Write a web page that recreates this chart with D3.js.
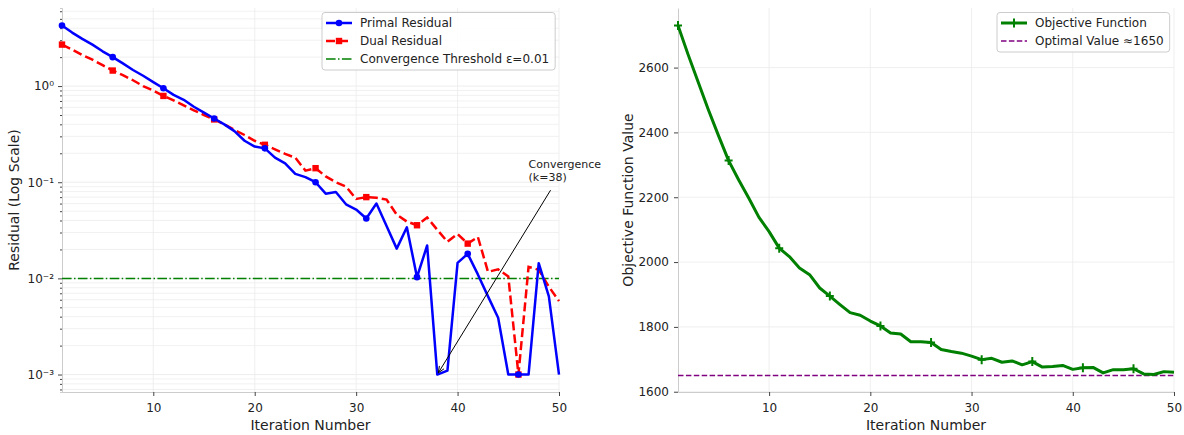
<!DOCTYPE html>
<html>
<head>
<meta charset="utf-8">
<script src="https://cdn.jsdelivr.net/npm/d3@7/dist/d3.min.js"></script>
<style>
body { margin: 0; background: #fff; }
text { font-family: "DejaVu Sans", sans-serif; fill: #222; }
</style>
</head>
<body>
<script>
// data
var iterations = d3.range(1, 51);
var primalResidual = [4.27, 3.6, 3.1, 2.7, 2.3, 2.0, 1.72, 1.47, 1.28, 1.1,
    0.95, 0.81, 0.72, 0.61, 0.53, 0.46, 0.40, 0.34, 0.27, 0.235,
    0.225, 0.18, 0.157, 0.122, 0.113, 0.10, 0.076, 0.079, 0.059, 0.052,
    0.042, 0.06, 0.035, 0.0204, 0.034, 0.0103, 0.022, 0.001, 0.0011, 0.0145,
    0.018, 0.011, 0.0065, 0.0039, 0.001, 0.001, 0.001, 0.0144, 0.0065, 0.001];
var dualResidual = [2.7, 2.4, 2.1, 1.88, 1.65, 1.45, 1.3, 1.15, 1.0, 0.9,
    0.79, 0.71, 0.63, 0.56, 0.5, 0.45, 0.40, 0.35, 0.31, 0.27,
    0.245, 0.22, 0.197, 0.18, 0.132, 0.14, 0.115, 0.10, 0.09, 0.067,
    0.07, 0.069, 0.066, 0.046, 0.039, 0.0357, 0.043, 0.032, 0.024, 0.029,
    0.023, 0.027, 0.0117, 0.0124, 0.0105, 0.001, 0.0132, 0.0123, 0.0082, 0.0058];
var objectiveValues = [2730, 2640, 2555, 2470, 2390, 2313, 2253, 2197, 2138, 2094,
    2043, 2017, 1982, 1961, 1920, 1895, 1869, 1844, 1836, 1818,
    1803, 1781, 1778, 1754, 1754, 1752, 1730, 1724, 1719, 1710,
    1699, 1703, 1691, 1695, 1683, 1693, 1676, 1678, 1681, 1669,
    1674, 1675, 1658, 1668, 1668, 1671, 1655, 1653, 1662, 1660];
var threshold = 0.01;
var optimalValue = 1650;
var markEvery = 5;

var xTickValues = [10, 20, 30, 40, 50];
var logTickValues = [1e-3, 1e-2, 1e-1, 1];
var logTickLabels = ["10\u207B\u00B3", "10\u207B\u00B2", "10\u207B\u00B9", "10\u2070"];
var objTickValues = [1600, 1800, 2000, 2200, 2400, 2600];

var leftLegend = ["Primal Residual", "Dual Residual", "Convergence Threshold \u03B5=0.01"];
var rightLegend = ["Objective Function", "Optimal Value \u22481650"];
var annotLines = ["Convergence", "(k=38)"];
var annotPoint = [38, 0.001];
var annotTextAt = [47, 0.14];

var svgWidth = 1184, svgHeight = 435;
var plotTop = 8, plotBottom = 392;
var leftPanel = {x0: 62, x1: 559};
var rightPanel = {x0: 678, x1: 1174};

var svg = d3.select("body").append("svg")
    .attr("width", svgWidth)
    .attr("height", svgHeight);

// scales
var xL = d3.scaleLinear().domain([1, 50]).range([leftPanel.x0, leftPanel.x1]);
var xR = d3.scaleLinear().domain([1, 50]).range([rightPanel.x0, rightPanel.x1]);

var allRes = primalResidual.concat(dualResidual);
var lo = Math.log10(d3.min(allRes)), hi = Math.log10(d3.max(allRes));
var lpad = 0.05 * (hi - lo);
var yL = d3.scaleLog()
    .domain([Math.pow(10, lo - lpad), Math.pow(10, hi + lpad)])
    .range([plotBottom, plotTop]);

var oMin = d3.min(objectiveValues), oMax = d3.max(objectiveValues);
var opad = 0.05 * (oMax - oMin);
var yR = d3.scaleLinear().domain([oMin - opad, oMax + opad]).range([plotBottom, plotTop]);

// minor log ticks
var minorTicks = [];
for (var e = -4; e <= 1; e++) {
    for (var m = 2; m <= 9; m++) {
        var v = m * Math.pow(10, e);
        if (v >= yL.domain()[0] && v <= yL.domain()[1]) minorTicks.push(v);
    }
}

// grids
var gridL = svg.append("g");
gridL.selectAll(".gm").data(minorTicks).enter().append("line")
    .attr("x1", leftPanel.x0).attr("x2", leftPanel.x1)
    .attr("y1", function(d){ return yL(d); }).attr("y2", function(d){ return yL(d); })
    .attr("stroke", "#eeeeee").attr("stroke-width", 0.8);
gridL.selectAll(".gM").data(logTickValues).enter().append("line")
    .attr("x1", leftPanel.x0).attr("x2", leftPanel.x1)
    .attr("y1", function(d){ return yL(d); }).attr("y2", function(d){ return yL(d); })
    .attr("stroke", "#e8e8e8").attr("stroke-width", 0.8);
gridL.selectAll(".gx").data(xTickValues).enter().append("line")
    .attr("x1", function(d){ return xL(d); }).attr("x2", function(d){ return xL(d); })
    .attr("y1", plotTop).attr("y2", plotBottom)
    .attr("stroke", "#ebebeb").attr("stroke-width", 0.8);

var gridR = svg.append("g");
gridR.selectAll(".gy").data(objTickValues).enter().append("line")
    .attr("x1", rightPanel.x0).attr("x2", rightPanel.x1)
    .attr("y1", function(d){ return yR(d); }).attr("y2", function(d){ return yR(d); })
    .attr("stroke", "#ebebeb").attr("stroke-width", 0.8);
gridR.selectAll(".gx").data(xTickValues).enter().append("line")
    .attr("x1", function(d){ return xR(d); }).attr("x2", function(d){ return xR(d); })
    .attr("y1", plotTop).attr("y2", plotBottom)
    .attr("stroke", "#ebebeb").attr("stroke-width", 0.8);

// axes
function styleAxis(g) {
    g.select(".domain").attr("stroke", "#cccccc").attr("stroke-width", 1);
    g.selectAll(".tick line").attr("stroke", "#444");
    g.selectAll(".tick text").attr("font-size", "12px").attr("fill", "#222")
        .attr("font-family", "DejaVu Sans");
}

svg.append("g")
    .attr("transform", "translate(" + leftPanel.x0 + ",0)")
    .call(d3.axisLeft(yL).tickValues(minorTicks).tickSize(2).tickFormat(""))
    .call(styleAxis);
svg.append("g")
    .attr("transform", "translate(" + leftPanel.x0 + ",0)")
    .call(d3.axisLeft(yL).tickValues(logTickValues).tickSize(4).tickPadding(4).tickSizeOuter(0)
        .tickFormat(function(d, i){ return logTickLabels[i]; }))
    .call(styleAxis);
svg.append("g")
    .attr("transform", "translate(0," + plotBottom + ")")
    .call(d3.axisBottom(xL).tickValues(xTickValues).tickSize(4).tickPadding(7).tickSizeOuter(0))
    .call(styleAxis);

svg.append("g")
    .attr("transform", "translate(" + rightPanel.x0 + ",0)")
    .call(d3.axisLeft(yR).tickValues(objTickValues).tickSize(4).tickPadding(5).tickSizeOuter(0)
        .tickFormat(d3.format("d")))
    .call(styleAxis);
svg.append("g")
    .attr("transform", "translate(0," + plotBottom + ")")
    .call(d3.axisBottom(xR).tickValues(xTickValues).tickSize(4).tickPadding(7).tickSizeOuter(0))
    .call(styleAxis);

// axis labels
svg.append("text").attr("x", (leftPanel.x0 + leftPanel.x1) / 2).attr("y", 429.5)
    .attr("text-anchor", "middle").attr("font-size", "14px").text("Iteration Number");
svg.append("text").attr("x", (rightPanel.x0 + rightPanel.x1) / 2).attr("y", 429.5)
    .attr("text-anchor", "middle").attr("font-size", "14px").text("Iteration Number");
svg.append("text")
    .attr("transform", "translate(18.5," + (plotTop + plotBottom) / 2 + ") rotate(-90)")
    .attr("text-anchor", "middle").attr("font-size", "14px").text("Residual (Log Scale)");
svg.append("text")
    .attr("transform", "translate(633," + (plotTop + plotBottom) / 2 + ") rotate(-90)")
    .attr("text-anchor", "middle").attr("font-size", "14px").text("Objective Function Value");

// left panel lines
var series = iterations.map(function(k, i){
    return {k: k, p: primalResidual[i], d: dualResidual[i], o: objectiveValues[i]};
});
var marked = series.filter(function(d, i){ return i % markEvery === 0; });

svg.append("line")
    .attr("x1", leftPanel.x0).attr("x2", leftPanel.x1)
    .attr("y1", yL(threshold)).attr("y2", yL(threshold))
    .attr("stroke", "#008000").attr("stroke-width", 1.5)
    .attr("stroke-dasharray", "9.6,2.4,1.5,2.4");

svg.append("path").datum(series)
    .attr("fill", "none").attr("stroke", "#ff0000").attr("stroke-width", 2.5)
    .attr("stroke-dasharray", "9,4")
    .attr("d", d3.line().x(function(d){ return xL(d.k); }).y(function(d){ return yL(d.d); }));
svg.selectAll(".dm").data(marked).enter().append("rect")
    .attr("x", function(d){ return xL(d.k) - 3.2; })
    .attr("y", function(d){ return yL(d.d) - 3.2; })
    .attr("width", 6.4).attr("height", 6.4).attr("fill", "#ff0000");

svg.append("path").datum(series)
    .attr("fill", "none").attr("stroke", "#0000ff").attr("stroke-width", 2.5)
    .attr("stroke-linejoin", "round")
    .attr("d", d3.line().x(function(d){ return xL(d.k); }).y(function(d){ return yL(d.p); }));
svg.selectAll(".pm").data(marked).enter().append("circle")
    .attr("cx", function(d){ return xL(d.k); })
    .attr("cy", function(d){ return yL(d.p); })
    .attr("r", 3.3).attr("fill", "#0000ff");

// annotation
var ax = xL(annotTextAt[0]), ay = yL(annotTextAt[1]);
annotLines.forEach(function(t, i){
    svg.append("text").attr("x", ax).attr("y", ay + i * 12.5)
        .attr("font-size", "11px").text(t);
});
var sx = ax + 22, sy = ay + 22;
var ex = xL(annotPoint[0]), ey = yL(annotPoint[1]);
var ang = Math.atan2(ey - sy, ex - sx);
ex -= 2 * Math.cos(ang); ey -= 2 * Math.sin(ang);
svg.append("line").attr("x1", sx).attr("y1", sy).attr("x2", ex).attr("y2", ey)
    .attr("stroke", "#000").attr("stroke-width", 1);
var hl = 7, hw = 0.4;
svg.append("path")
    .attr("d", "M" + (ex - hl * Math.cos(ang - hw)) + "," + (ey - hl * Math.sin(ang - hw)) +
        "L" + ex + "," + ey +
        "L" + (ex - hl * Math.cos(ang + hw)) + "," + (ey - hl * Math.sin(ang + hw)))
    .attr("fill", "none").attr("stroke", "#000").attr("stroke-width", 1);

// right panel
svg.append("line")
    .attr("x1", rightPanel.x0).attr("x2", rightPanel.x1)
    .attr("y1", yR(optimalValue)).attr("y2", yR(optimalValue))
    .attr("stroke", "#800080").attr("stroke-width", 1.5)
    .attr("stroke-dasharray", "5.5,2.4");

svg.append("path").datum(series)
    .attr("fill", "none").attr("stroke", "#008000").attr("stroke-width", 3)
    .attr("stroke-linejoin", "round")
    .attr("d", d3.line().x(function(d){ return xR(d.k); }).y(function(d){ return yR(d.o); }));
svg.selectAll(".om").data(marked).enter().append("path")
    .attr("transform", function(d){ return "translate(" + xR(d.k) + "," + yR(d.o) + ")"; })
    .attr("d", "M-4,0H4M0,-4.5V4.5")
    .attr("stroke", "#008000").attr("stroke-width", 2);

// legends
function legend(x, y, labels, drawers) {
    var g = svg.append("g");
    var box = g.append("rect").attr("x", x).attr("y", y).attr("rx", 3)
        .attr("fill", "#fff").attr("fill-opacity", 0.85)
        .attr("stroke", "#cccccc").attr("stroke-width", 1);
    var maxW = 0;
    labels.forEach(function(t, i){
        var cy = y + 10.5 + i * 18;
        drawers[i](g, x + 4, x + 30, cy);
        var txt = g.append("text").attr("x", x + 38).attr("y", cy + 4.3)
            .attr("font-size", "12px").text(t);
        maxW = Math.max(maxW, txt.node().getComputedTextLength());
    });
    box.attr("width", 38 + maxW + 6).attr("height", labels.length * 18 + 3.5);
}

legend(322, 12.5, leftLegend, [
    function(g, a, b, cy){
        g.append("line").attr("x1", a).attr("x2", b).attr("y1", cy).attr("y2", cy)
            .attr("stroke", "#0000ff").attr("stroke-width", 2.5);
        g.append("circle").attr("cx", (a + b) / 2).attr("cy", cy).attr("r", 3.3).attr("fill", "#0000ff");
    },
    function(g, a, b, cy){
        g.append("line").attr("x1", a).attr("x2", b).attr("y1", cy).attr("y2", cy)
            .attr("stroke", "#ff0000").attr("stroke-width", 2.5).attr("stroke-dasharray", "9,4");
        g.append("rect").attr("x", (a + b) / 2 - 3.2).attr("y", cy - 3.2)
            .attr("width", 6.4).attr("height", 6.4).attr("fill", "#ff0000");
    },
    function(g, a, b, cy){
        g.append("line").attr("x1", a).attr("x2", b).attr("y1", cy).attr("y2", cy)
            .attr("stroke", "#008000").attr("stroke-width", 1.5)
            .attr("stroke-dasharray", "9.6,2.4,1.5,2.4");
    }
]);

legend(997, 12.5, rightLegend, [
    function(g, a, b, cy){
        g.append("line").attr("x1", a).attr("x2", b).attr("y1", cy).attr("y2", cy)
            .attr("stroke", "#008000").attr("stroke-width", 3);
        g.append("path").attr("transform", "translate(" + (a + b) / 2 + "," + cy + ")")
            .attr("d", "M-4,0H4M0,-4.5V4.5").attr("stroke", "#008000").attr("stroke-width", 2);
    },
    function(g, a, b, cy){
        g.append("line").attr("x1", a).attr("x2", b).attr("y1", cy).attr("y2", cy)
            .attr("stroke", "#800080").attr("stroke-width", 1.5).attr("stroke-dasharray", "5.5,2.4");
    }
]);
</script>
</body>
</html>
